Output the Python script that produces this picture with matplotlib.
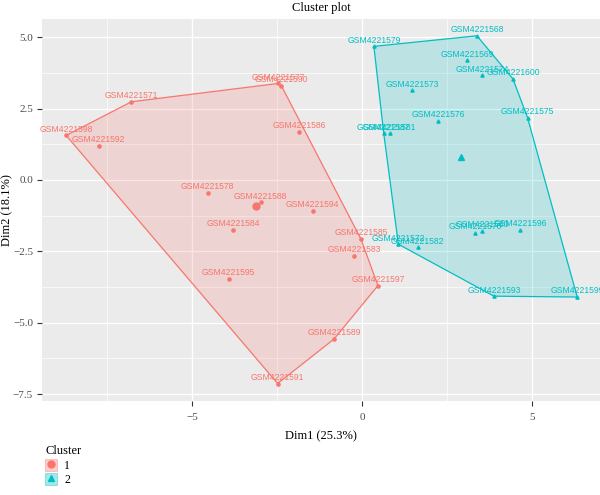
import matplotlib
matplotlib.use("Agg")
import matplotlib.pyplot as plt
from matplotlib.patches import Polygon, Patch
from matplotlib.lines import Line2D
import numpy as np

# sample names and PCA coordinates (Dim1, Dim2) per cluster
names_1 = ["GSM4221571", "GSM4221598", "GSM4221592", "GSM4221577", "GSM4221590",
           "GSM4221586", "GSM4221578", "GSM4221588", "GSM4221594", "GSM4221584",
           "GSM4221585", "GSM4221583", "GSM4221595", "GSM4221597", "GSM4221589",
           "GSM4221591"]
dim1_1 = [-6.78, -8.70, -7.74, -2.47, -2.37, -1.84, -4.54, -2.98, -1.45, -3.79,
          -0.03, -0.23, -3.92, 0.47, -0.82, -2.48]
dim2_1 = [2.74, 1.56, 1.19, 3.38, 3.30, 1.69, -0.44, -0.78, -1.09, -1.74,
          -2.07, -2.66, -3.47, -3.70, -5.57, -7.13]

names_2 = ["GSM4221579", "GSM4221568", "GSM4221569", "GSM4221574", "GSM4221600",
           "GSM4221573", "GSM4221575", "GSM4221576", "GSM4221587", "GSM4221581",
           "GSM4221572", "GSM4221582", "GSM4221570", "GSM4221580", "GSM4221596",
           "GSM4221593", "GSM4221599"]
dim1_2 = [0.35, 3.38, 3.10, 3.54, 4.44, 1.47, 4.87, 2.24, 0.64, 0.81,
          1.07, 1.64, 3.33, 3.54, 4.65, 3.88, 6.33]
dim2_2 = [4.68, 5.05, 4.19, 3.66, 3.54, 3.14, 2.18, 2.07, 1.63, 1.63,
          -2.25, -2.36, -1.84, -1.79, -1.75, -4.07, -4.10]

clusters = ["1", "2"]
colors = ["#F8766D", "#00BFC4"]
markers = ["o", "^"]


def convex_hull(pts):
    pts = sorted(set(pts))
    def cross(o, a, b):
        return (a[0] - o[0]) * (b[1] - o[1]) - (a[1] - o[1]) * (b[0] - o[0])
    lower, upper = [], []
    for p in pts:
        while len(lower) >= 2 and cross(lower[-2], lower[-1], p) <= 0:
            lower.pop()
        lower.append(p)
    for p in reversed(pts):
        while len(upper) >= 2 and cross(upper[-2], upper[-1], p) <= 0:
            upper.pop()
        upper.append(p)
    return lower[:-1] + upper[:-1]


serif = ["Liberation Serif", "DejaVu Serif"]
sans = "Liberation Sans"

fig = plt.figure(figsize=(6, 4.95), dpi=100)
ax = fig.add_axes([0.07, 0.19, 0.93, 0.7717])
ax.set_facecolor("#EBEBEB")

groups = [(names_1, dim1_1, dim2_1), (names_2, dim1_2, dim2_2)]
for (names, xs, ys), col, mk in zip(groups, colors, markers):
    hull = convex_hull(list(zip(xs, ys)))
    ax.add_patch(Polygon(hull, closed=True, facecolor=col, alpha=0.2,
                         edgecolor="none", zorder=2))
    ax.add_patch(Polygon(hull, closed=True, facecolor="none",
                         edgecolor=col, lw=0.9, zorder=3))
    ax.plot(xs, ys, linestyle="none", marker=mk, color=col, ms=2.3, zorder=4)
    for n, x, y in zip(names, xs, ys):
        ax.annotate(n, (x, y), xytext=(0, 4.4), textcoords="offset points",
                    ha="center", va="center", fontsize=6.2, color=col,
                    family=sans, zorder=5)
    # cluster centre
    ax.plot([np.mean(xs)], [np.mean(ys)], marker=mk, color=col, ms=5, zorder=4)

ax.set_xlim(-9.41, 7.0)
ax.set_ylim(-7.74, 5.64)
ax.set_xticks([-5, 0, 5])
ax.set_yticks([-7.5, -5.0, -2.5, 0.0, 2.5, 5.0])
ax.set_yticklabels(["\u22127.5", "\u22125.0", "\u22122.5", "0.0", "2.5", "5.0"])
ax.set_xticklabels(["\u22125", "0", "5"])
ax.set_xticks([-7.5, -2.5, 2.5], minor=True)
ax.set_yticks([-6.25, -3.75, -1.25, 1.25, 3.75], minor=True)
ax.grid(which="major", color="white", lw=1.0, zorder=0)
ax.grid(which="minor", color="white", lw=0.5, zorder=0)
ax.set_axisbelow(True)
for s in ax.spines.values():
    s.set_visible(False)
ax.tick_params(which="major", length=3.5, width=0.8, color="#333333",
               labelsize=8, labelcolor="#4D4D4D")
ax.tick_params(axis="y", pad=3)
ax.tick_params(axis="x", pad=5)
ax.tick_params(which="minor", length=0)
for lab in ax.get_xticklabels() + ax.get_yticklabels():
    lab.set_family(serif)

ax.set_xlabel("Dim1 (25.3%)", fontsize=9, family=serif, labelpad=6)
ax.set_ylabel("Dim2 (18.1%)", fontsize=9, family=serif, va="center")
ax.yaxis.set_label_coords(-0.063, 0.5)
ax.set_title("Cluster plot", fontsize=9, family=serif, pad=6)

handles = []
for col, mk in zip(colors, markers):
    handles.append((Patch(facecolor=col, alpha=0.35, edgecolor=col, lw=0.8),
                    Line2D([], [], linestyle="none", marker=mk, color=col, ms=5)))
leg = fig.legend(handles, clusters, title="Cluster", loc="upper left",
                 bbox_to_anchor=(0.062, 0.117), frameon=False,
                 prop={"family": serif, "size": 8.5}, handlelength=1.0,
                 handleheight=1.2, handletextpad=0.6, labelspacing=0.1,
                 borderpad=0.2)
leg.get_title().set_family(serif)
leg.get_title().set_fontsize(9)
leg._legend_box.align = "left"

fig.savefig("out.png", dpi=100)
